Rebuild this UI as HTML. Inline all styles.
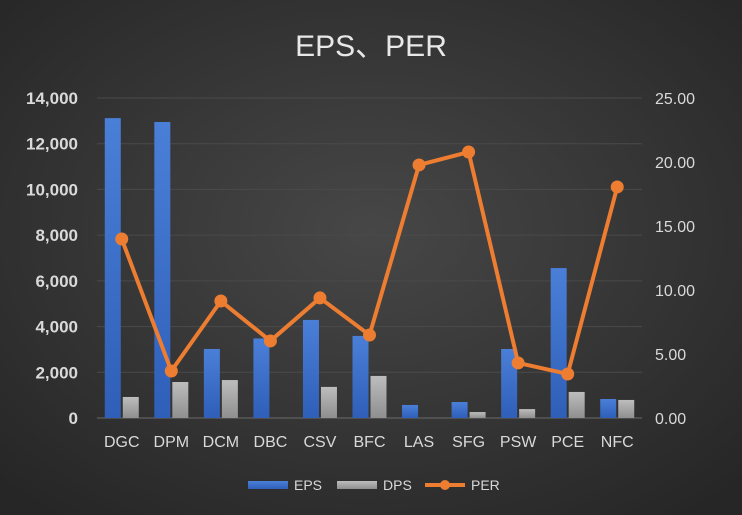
<!DOCTYPE html>
<html><head><meta charset="utf-8"><style>
body{margin:0;background:#333;}
svg{display:block;font-family:"Liberation Sans","Noto Sans CJK SC",sans-serif;}
</style></head><body>
<svg id="c" width="742" height="515" viewBox="0 0 742 515">
<defs>
<radialGradient id="bg" cx="50%" cy="45%" r="70%">
<stop offset="0" stop-color="#474747"/><stop offset="1" stop-color="#262626"/></radialGradient>
<linearGradient id="blue" x1="0" x2="0" y1="0" y2="1"><stop offset="0" stop-color="#4a7fd8"/><stop offset="1" stop-color="#2f5fb8"/></linearGradient>
<linearGradient id="grey" x1="0" x2="0" y1="0" y2="1"><stop offset="0" stop-color="#bdbdbd"/><stop offset="1" stop-color="#8f8f8f"/></linearGradient>
</defs>
<rect width="742" height="515" fill="url(#bg)"/>
<text x="371" y="56" fill="#e8e8e8" font-size="30" text-anchor="middle">EPS、PER</text>
<g id="grid"></g><g id="bars"></g><g id="line"></g><g id="axes"></g>
<g>
<rect x="248" y="481" width="40" height="8" fill="url(#blue)"/>
<text x="294" y="490" fill="#d9d9d9" font-size="14">EPS</text>
<rect x="337" y="481" width="40" height="8" fill="url(#grey)"/>
<text x="383" y="490" fill="#d9d9d9" font-size="14">DPS</text>
<line x1="425" y1="485" x2="465" y2="485" stroke="#ed7d31" stroke-width="4"/>
<circle cx="445" cy="485" r="5" fill="#ed7d31"/>
<text x="471" y="490" fill="#d9d9d9" font-size="14">PER</text>
</g>
</svg>
<script>
const categories=["DGC","DPM","DCM","DBC","CSV","BFC","LAS","SFG","PSW","PCE","NFC"];
const eps=[13120,12950,3020,3480,4290,3590,570,700,3020,6560,830];
const dps=[920,1575,1660,0,1360,1840,0,260,390,1140,790];
const per=[13.98,3.67,9.14,6.02,9.38,6.48,19.77,20.78,4.30,3.44,18.05];
const leftTicks=[0,2000,4000,6000,8000,10000,12000,14000];
const rightTicks=[0,5,10,15,20,25];
const NS="http://www.w3.org/2000/svg";
const x0=97,x1=642,yB=418,yT=98;
const step=(x1-x0)/categories.length;
const xc=i=>x0+step*(i+0.5);
const yL=v=>yB-(v/14000)*(yB-yT);
const yR=v=>yB-(v/25)*(yB-yT);
function mk(t,a,p){const e=document.createElementNS(NS,t);for(const k in a)e.setAttribute(k,a[k]);p.appendChild(e);return e;}
const grid=document.getElementById('grid'),bars=document.getElementById('bars'),line=document.getElementById('line'),axes=document.getElementById('axes');
leftTicks.forEach((v,i)=>{
 const g=mk('line',{x1:x0,x2:x1,y1:yL(v),y2:yL(v),stroke:i===0?'#6a6a6a':'#4a4a4a','stroke-width':1},grid);
 
 
 const t=mk('text',{x:78,y:yL(v)+6,fill:'#d9d9d9','font-size':17,'font-weight':'bold','text-anchor':'end'},axes);
 t.textContent=v.toLocaleString('en-US');
 
 
});
rightTicks.forEach(v=>{
 const t=mk('text',{x:655,y:yR(v)+6,fill:'#d9d9d9','font-size':16},axes);
 t.textContent=v.toFixed(2);
 
 
});
categories.forEach((c,i)=>{
 const t=mk('text',{x:xc(i),y:447,fill:'#d9d9d9','font-size':16,'text-anchor':'middle'},axes);
 t.textContent=c;
 
 
 const b=mk('rect',{x:xc(i)-17,y:yL(eps[i]),width:16,height:yB-yL(eps[i]),fill:'url(#blue)'},bars);
 
 
 const d=mk('rect',{x:xc(i)+1,y:yL(dps[i]),width:16,height:yB-yL(dps[i]),fill:'url(#grey)'},bars);
 
 
});
const pl=mk('polyline',{points:per.map((v,i)=>xc(i)+','+yR(v)).join(' '),fill:'none',stroke:'#ed7d31','stroke-width':4,'stroke-linejoin':'round'},line);


per.forEach((v,i)=>{
 const p=mk('circle',{cx:xc(i),cy:yR(v),r:6.5,fill:'#ed7d31'},line);
 
 
});
</script>
</body></html>
